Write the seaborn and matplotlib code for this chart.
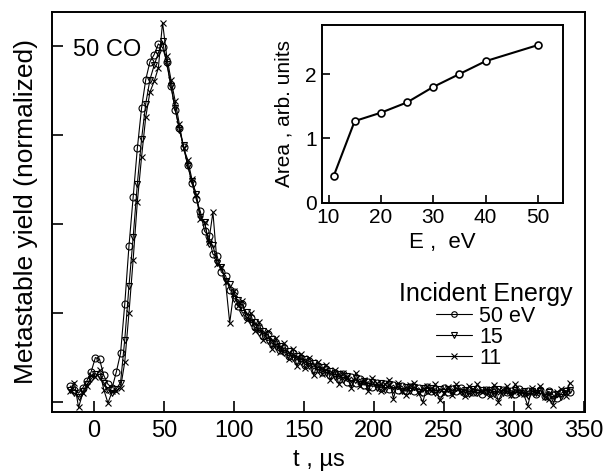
import numpy as np
import pandas as pd
import seaborn as sns
import matplotlib.pyplot as plt
from matplotlib.lines import Line2D

sns.set_style('ticks')
plt.rcParams['font.family'] = ['Liberation Sans', 'DejaVu Sans']
for k in ['text.color', 'axes.labelcolor', 'xtick.color', 'ytick.color',
          'axes.edgecolor']:
    plt.rcParams[k] = 'black'

# time grid, microseconds
t = np.arange(-17, 341, 3)

# metastable yield at 50 eV (circles)
yield_50 = [0.18, 0.14, 0.10, 0.16, 0.24, 0.34, 0.50, 0.48, 0.30, 0.20,
            0.16, 0.34, 0.55, 1.10, 1.75, 2.30, 2.85, 3.30, 3.62, 3.82,
            3.90, 4.02, 3.98, 3.82, 3.55, 3.28, 3.08, 2.86, 2.66, 2.46,
            2.28, 2.14, 1.92, 1.86, 1.66, 1.64, 1.46, 1.42, 1.26, 1.24,
            1.08, 1.10, 0.95, 0.94, 0.84, 0.83, 0.74, 0.76, 0.66, 0.65,
            0.58, 0.61, 0.52, 0.55, 0.47, 0.50, 0.42, 0.46, 0.37, 0.41,
            0.34, 0.37, 0.30, 0.33, 0.26, 0.31, 0.23, 0.28, 0.21, 0.26,
            0.19, 0.23, 0.17, 0.21, 0.16, 0.20, 0.15, 0.19, 0.14, 0.18,
            0.12, 0.17, 0.13, 0.16, 0.11, 0.17, 0.12, 0.15, 0.10, 0.16,
            0.11, 0.15, 0.12, 0.16, 0.10, 0.14, 0.11, 0.15, 0.09, 0.14,
            0.10, 0.15, 0.08, 0.14, 0.11, 0.13, 0.09, 0.15, 0.10, 0.12,
            0.13, 0.09, 0.14, 0.07, 0.12, 0.08, 0.05, 0.10, 0.13, 0.11]

# 15 eV (triangles)
yield_15 = [0.14, 0.10, 0.06, 0.12, 0.20, 0.26, 0.32, 0.28, 0.22, 0.14,
            0.10, 0.15, 0.22, 0.70, 1.30, 1.85, 2.45, 2.95, 3.35, 3.62,
            3.78, 3.92, 4.05, 3.80, 3.55, 3.30, 3.05, 2.88, 2.65, 2.48,
            2.34, 2.08, 2.02, 1.78, 1.76, 1.56, 1.52, 1.36, 1.32, 1.16,
            1.15, 1.00, 1.01, 0.89, 0.90, 0.78, 0.80, 0.69, 0.71, 0.62,
            0.63, 0.55, 0.57, 0.50, 0.52, 0.45, 0.48, 0.40, 0.44, 0.36,
            0.39, 0.33, 0.35, 0.28, 0.32, 0.25, 0.29, 0.22, 0.27, 0.20,
            0.24, 0.18, 0.23, 0.16, 0.21, 0.14, 0.20, 0.14, 0.18, 0.13,
            0.17, 0.12, 0.17, 0.11, 0.16, 0.12, 0.16, 0.10, 0.15, 0.11,
            0.15, 0.10, 0.16, 0.11, 0.14, 0.09, 0.15, 0.10, 0.14, 0.11,
            0.14, 0.09, 0.15, 0.10, 0.13, 0.08, 0.14, 0.10, 0.13, 0.07,
            0.12, 0.10, 0.13, 0.06, 0.11, 0.04, 0.09, 0.06, 0.12, 0.14]

# 11 eV (crosses)
yield_11 = [0.12, 0.22, -0.06, 0.10, 0.18, 0.30, 0.28, 0.36, 0.14, -0.01,
            0.12, 0.13, 0.16, 0.45, 1.00, 1.60, 2.25, 2.75, 3.20, 3.48,
            3.60, 3.75, 4.26, 3.88, 3.62, 3.38, 3.12, 2.85, 2.72, 2.50,
            2.32, 2.05, 2.02, 1.80, 2.13, 1.55, 1.52, 1.35, 0.89, 1.25,
            1.08, 1.14, 0.92, 1.00, 0.80, 0.90, 0.70, 0.80, 0.60, 0.72,
            0.56, 0.66, 0.48, 0.60, 0.40, 0.54, 0.38, 0.50, 0.30, 0.45,
            0.31, 0.42, 0.25, 0.36, 0.20, 0.33, 0.27, 0.16, 0.33, 0.18,
            0.25, 0.12, 0.27, 0.21, 0.13, 0.20, 0.25, 0.04, 0.22, 0.12,
            0.08, 0.19, 0.21, 0.10, 0.00, 0.18, 0.12, 0.20, 0.02, 0.10,
            0.17, 0.08, 0.20, 0.12, 0.07, 0.18, 0.10, 0.20, 0.11, 0.15,
            0.07, 0.19, 0.00, 0.14, 0.18, 0.08, 0.20, 0.11, 0.09, -0.04,
            0.16, 0.10, 0.18, 0.06, 0.03, -0.03, 0.11, 0.15, 0.07, 0.22]

# inset: integrated area vs incident energy
energy = [11, 15, 20, 25, 30, 35, 40, 50]
area = [0.42, 1.27, 1.40, 1.56, 1.80, 2.00, 2.20, 2.45]

labels = ['50 eV', '15', '11']
markers = ['o', 'v', 'x']
series = [yield_50, yield_15, yield_11]

fig = plt.figure(figsize=(6.08, 4.74), dpi=100)
ax = fig.add_axes([0.0855, 0.131, 0.877, 0.844])

for y, m, lab in zip(series, markers, labels):
    sns.lineplot(x=t, y=y, marker=m, color='k', lw=0.8, ms=5, mfc='none',
                 mec='k', mew=0.8, ax=ax, label=lab)

ax.set_xlim(-30, 351)
ax.set_ylim(-0.11, 4.38)
ax.set_xticks(range(0, 351, 50))
ax.set_yticks([0, 1, 2, 3, 4])
ax.set_yticklabels([])
ax.tick_params(direction='in', length=8, width=1.2, labelsize=17, pad=6)
for s in ax.spines.values():
    s.set_linewidth(1.4)
ax.set_xlabel('t , \u00b5s', fontsize=17, labelpad=5)
ax.set_ylabel('Metastable yield (normalized)', fontsize=19, labelpad=4)
ax.text(0.04, 0.905, '50 CO', transform=ax.transAxes, fontsize=17,
        va='center', ha='left')

handles = [Line2D([], [], color='k', lw=0.8, marker=m, ms=4, mfc='none',
                  mec='k', mew=0.8) for m in markers]
leg = ax.legend(handles, labels, title='Incident Energy', frameon=False,
                fontsize=15.5, title_fontsize=18, labelspacing=0.0,
                handlelength=1.7, handletextpad=0.3, borderpad=0,
                loc='upper left', bbox_to_anchor=(388 / 608, 1 - 271 / 474),
                bbox_transform=fig.transFigure)

# inset
ins = fig.add_axes([0.530, 0.572, 0.396, 0.375])
sns.lineplot(x=energy, y=area, color='k', lw=1.5, marker='o', ms=5,
             mfc='white', mec='k', mew=1.2, ax=ins)
ins.set_xlim(8.8, 54.8)
ins.set_ylim(0, 2.76)
ins.set_xticks([10, 20, 30, 40, 50])
ins.set_yticks([0, 1, 2])
ins.tick_params(direction='in', length=6, width=1.2, labelsize=15, pad=4)
for s in ins.spines.values():
    s.set_linewidth(1.4)
ins.set_xlabel('E ,  eV', fontsize=16, labelpad=3)
ins.set_ylabel('Area , arb. units', fontsize=15, labelpad=8)

fig.savefig('out.png', dpi=100)
